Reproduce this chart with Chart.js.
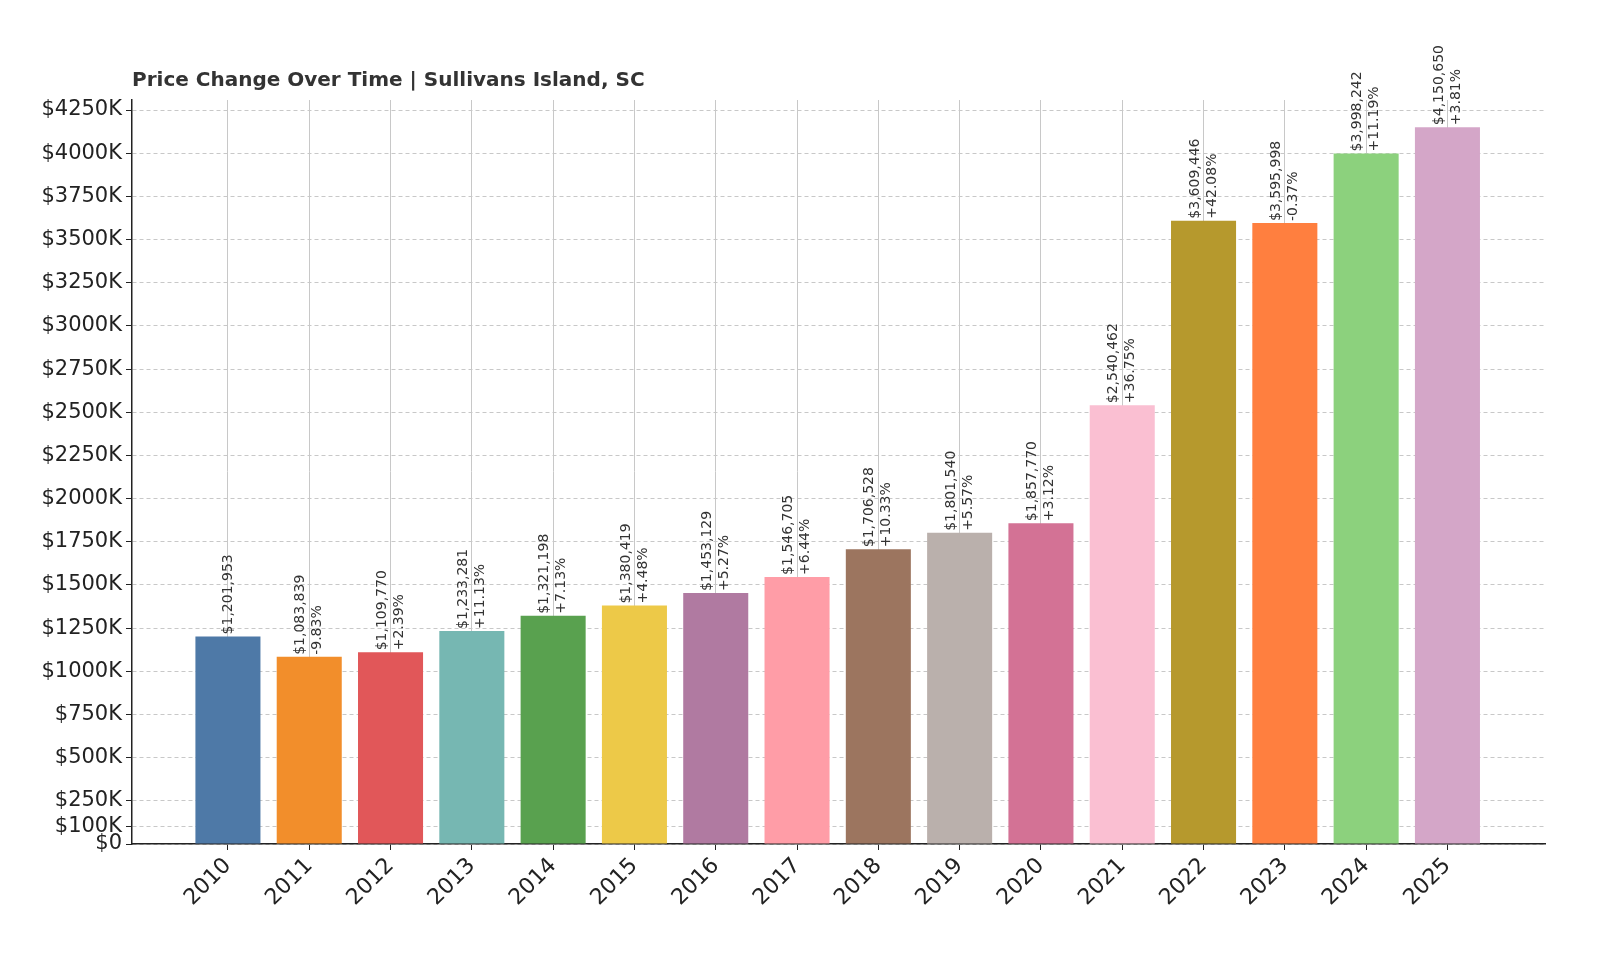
<!DOCTYPE html>
<html><head><meta charset="utf-8">
<script src="https://cdn.jsdelivr.net/npm/chart.js@4"></script>
<style>html,body{margin:0;padding:0;background:#fff;overflow:hidden;width:1600px;height:960px}#w{width:1600px;height:960px}canvas{display:block}</style>
</head><body><div id="w"><canvas id="c" width="1600" height="960" style="width:1600px;height:960px"></canvas></div>
<script>
const years = [2010,2011,2012,2013,2014,2015,2016,2017,2018,2019,2020,2021,2022,2023,2024,2025];
const prices = [1201953,1083839,1109770,1233281,1321198,1380419,1453129,1546705,1706528,1801540,1857770,2540462,3609446,3595998,3998242,4150650];
const changes = [null,"-9.83%","+2.39%","+11.13%","+7.13%","+4.48%","+5.27%","+6.44%","+10.33%","+5.57%","+3.12%","+36.75%","+42.08%","-0.37%","+11.19%","+3.81%"];
const yTicks = [0,100000,250000,500000,750000,1000000,1250000,1500000,1750000,2000000,2250000,2500000,2750000,3000000,3250000,3500000,3750000,4000000,4250000];
const colors = ["#4e79a7","#f28e2b","#e15759","#76b7b2","#59a14f","#edc948","#b07aa1","#ff9da7","#9c755f","#bab0ac","#d37295","#fabfd2","#b6992d","#ff7f3f","#8cd17d","#d4a6c8"];
const title = "Price Change Over Time | Sullivans Island, SC";
const FONT = "'DejaVu Sans', sans-serif";

const labelPlugin = {
  id:'lbl',
  afterDatasetsDraw(chart){
    const ctx = chart.ctx, xs = chart.scales.x, ys = chart.scales.y;
    ctx.save();
    ctx.fillStyle = '#333';
    ctx.font = "14px " + FONT;
    ctx.textBaseline = 'middle';
    ctx.textAlign = 'left';
    years.forEach((yr,i)=>{
      const x = xs.getPixelForValue(yr), y = ys.getPixelForValue(prices[i]);
      const lines = ["$" + prices[i].toLocaleString('en-US')];
      if (changes[i]) lines.push(changes[i]);
      const n = lines.length;
      lines.forEach((t,j)=>{
        const off = (j - (n-1)/2) * 17;
        ctx.save();
        ctx.translate(x + off, y - 2);
        ctx.rotate(-Math.PI/2);
        ctx.fillText(t, 0, 0);
        ctx.restore();
      });
    });
    ctx.font = "bold 20px " + FONT;
    ctx.fillStyle = '#333';
    ctx.textBaseline = 'alphabetic';
    ctx.fillText(title, 132, 86);
    ctx.restore();
  }
};

new Chart(document.getElementById('c'), {
  type:'bar',
  data:{ datasets:[{ data: years.map((y,i)=>({x:y,y:prices[i]})), backgroundColor: colors, barPercentage:0.8, categoryPercentage:1.0 }]},
  options:{
    responsive:false, animation:false, devicePixelRatio:1,
    layout:{padding:{top:100,right:55,left:0,bottom:0}},
    plugins:{legend:{display:false},tooltip:{enabled:false}},
    scales:{
      x:{ type:'linear', min:2008.82, max:2026.2, offset:false,
        afterBuildTicks(s){ s.ticks = years.map(v=>({value:v})); },
        afterFit(s){ s.height = 116; },
        ticks:{ autoSkip:false, maxRotation:45, minRotation:45, color:'#222', font:{family:FONT,size:22}, callback:v=>String(v) },
        grid:{ offset:false, color:'#c8c8c8', drawTicks:true, tickLength:6, tickColor:'#222' },
        border:{ display:true, color:'#222', width:1.5, dash:[] }
      },
      y:{ min:0, max:4308000,
        afterBuildTicks(s){ s.ticks = yTicks.map(v=>({value:v})); },
        afterFit(s){ s.width = 132; },
        ticks:{ autoSkip:false, color:'#222', font:{family:FONT,size:21}, padding:4, callback:v=> v===0 ? '$0' : '$'+(v/1000)+'K' },
        grid:{ color:'#c8c8c8', drawTicks:true, tickLength:6, tickColor:'#222' },
        border:{ display:true, color:'#222', width:1.5, dash:[4,3] }
      }
    }
  },
  plugins:[labelPlugin]
});
</script></body></html>
